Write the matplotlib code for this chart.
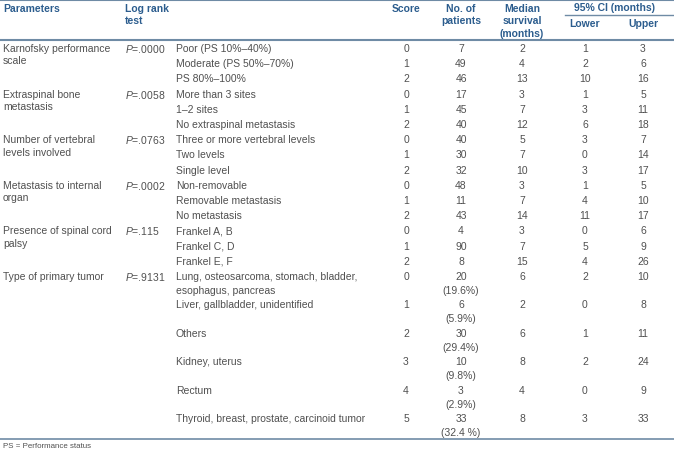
import matplotlib.pyplot as plt

plt.rcParams['font.family'] = ['Liberation Sans', 'DejaVu Sans']
plt.rcParams['mathtext.fontset'] = 'custom'
plt.rcParams['mathtext.it'] = 'Liberation Sans:italic'
plt.rcParams['mathtext.rm'] = 'Liberation Sans'

# table data
parameters = ['Karnofsky performance\nscale', 'Extraspinal bone\nmetastasis',
              'Number of vertebral\nlevels involved', 'Metastasis to internal\norgan',
              'Presence of spinal cord\npalsy', 'Type of primary tumor']
p_values = ['.0000', '.0058', '.0763', '.0002', '.115', '.9131']
categories = [
    ['Poor (PS 10%\u201340%)', 'Moderate (PS 50%\u201370%)', 'PS 80%\u2013100%'],
    ['More than 3 sites', '1\u20132 sites', 'No extraspinal metastasis'],
    ['Three or more vertebral levels', 'Two levels', 'Single level'],
    ['Non-removable', 'Removable metastasis', 'No metastasis'],
    ['Frankel A, B', 'Frankel C, D', 'Frankel E, F'],
    ['Lung, osteosarcoma, stomach, bladder,\nesophagus, pancreas',
     'Liver, gallbladder, unidentified', 'Others', 'Kidney, uterus', 'Rectum',
     'Thyroid, breast, prostate, carcinoid tumor'],
]
scores = [[0, 1, 2], [0, 1, 2], [0, 1, 2], [0, 1, 2], [0, 1, 2], [0, 1, 2, 3, 4, 5]]
patients = [[7, 49, 46], [17, 45, 40], [40, 30, 32], [48, 11, 43], [4, 90, 8],
            [20, 6, 30, 10, 3, 33]]
tumor_pct = ['(19.6%)', '(5.9%)', '(29.4%)', '(9.8%)', '(2.9%)', '(32.4 %)']
median = [[2, 4, 13], [3, 7, 12], [5, 7, 10], [3, 7, 14], [3, 7, 15], [6, 2, 6, 8, 4, 8]]
ci_lower = [[1, 2, 10], [1, 3, 6], [3, 0, 3], [1, 4, 11], [0, 5, 4], [2, 0, 1, 2, 0, 3]]
ci_upper = [[3, 6, 16], [5, 11, 18], [7, 14, 17], [5, 10, 17], [6, 9, 26], [10, 8, 11, 24, 9, 33]]
footnote = 'PS = Performance status'

W, H = 674, 452
fig = plt.figure(figsize=(W / 100, H / 100), dpi=100)
ax = fig.add_axes([0, 0, 1, 1])
ax.set_xlim(0, W)
ax.set_ylim(H, 0)
ax.axis('off')

head_c = '#2c5d8e'
body_c = '#505050'
line_c = '#6f8ba5'
fs = 7.5

# column positions
x_par, x_p, x_cat = 3, 125, 176
x_score, x_pat, x_med, x_low, x_up = 406, 461, 522, 585, 643


def head(x, y, s, ha='center'):
    ax.text(x, y, s, ha=ha, va='center', fontsize=fs, color=head_c,
            fontweight='bold', linespacing=1.2)


def body(x, y, s, ha='center'):
    ax.text(x, y, s, ha=ha, va='center', fontsize=fs, color=body_c)


# header
ax.plot([0, W], [1, 1], color=line_c, lw=1.5)
ax.plot([0, W], [41, 41], color=line_c, lw=1.5)
ax.plot([565, W], [15.5, 15.5], color=line_c, lw=1)
head(x_par, 9, 'Parameters', ha='left')
head(x_p, 9, 'Log rank', ha='left')
head(x_p, 21.5, 'test', ha='left')
head(x_score, 9, 'Score')
head(x_pat, 9, 'No. of')
head(x_pat, 21.5, 'patients')
head(x_med, 9, 'Median')
head(x_med, 21.5, 'survival')
head(x_med, 34, '(months)')
head(614, 8, '95% CI (months)')
head(x_low, 24, 'Lower')
head(x_up, 24, 'Upper')

# body rows
y = 49
pitch = 15.2
for g in range(len(parameters)):
    for k, line in enumerate(parameters[g].split('\n')):
        body(x_par, y + k * 12.5, line, ha='left')
    body(x_p, y, '$P$=' + p_values[g], ha='left')
    tumor = g == len(parameters) - 1
    for i in range(len(categories[g])):
        for k, line in enumerate(categories[g][i].split('\n')):
            body(x_cat, y + k * 14, line, ha='left')
        body(x_score, y, str(scores[g][i]))
        body(x_pat, y, str(patients[g][i]))
        if tumor:
            body(x_pat, y + 14, tumor_pct[i])
        body(x_med, y, str(median[g][i]))
        body(x_low, y, str(ci_lower[g][i]))
        body(x_up, y, str(ci_upper[g][i]))
        y += 28.5 if tumor else pitch

ax.plot([0, W], [440, 440], color=line_c, lw=1.2)
ax.text(3, 446.5, footnote, ha='left', va='center', fontsize=5.7, color=body_c)

fig.savefig('out.png', dpi=100)
